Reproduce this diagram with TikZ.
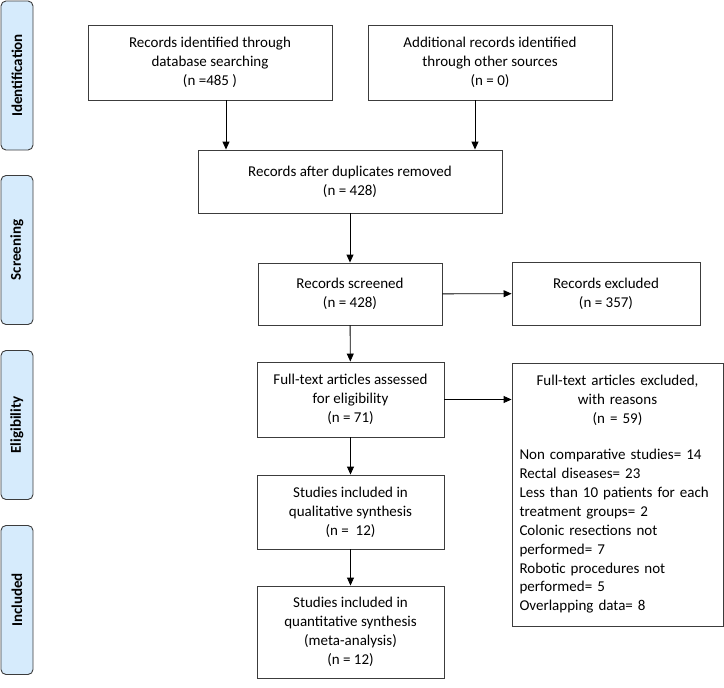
\documentclass[tikz,border=0pt]{standalone}
\usepackage{fontspec}
\setmainfont{Carlito}
\usetikzlibrary{positioning, arrows, arrows.meta}
\definecolor{phasefill}{RGB}{214,235,252}
\definecolor{linegray}{RGB}{60,60,60}
\tikzset{
>={Triangle[length=8pt, width=7pt]}, % arrow heads
every node/.style={font=\fontsize{15}{18.9}\selectfont}, % text size of the boxes
box/.style={draw=linegray, line width=0.9pt, align=center, inner sep=2pt}, % the flow boxes
phase/.style={draw=linegray, fill=phasefill, line width=0.9pt, rounded corners=5pt, rotate=90, minimum width=149pt, minimum height=32pt, font=\fontsize{15}{17}\selectfont\bfseries}, % the stages on the left
flow/.style={->, line width=0.9pt, black}, % the arrows
}

\begin{document}
\begin{tikzpicture}[x=1pt, y=-1pt]
    \useasboundingbox (0,0) rectangle (724,688);
    % stages
    \node[phase] (ident) at (17, 75.5) {Identification};
    \node[phase] (screen) at (17, 250) {Screening};
    \node[phase] (elig) at (17, 425) {Eligibility};
    \node[phase] (incl) at (17, 600) {Included};
    % boxes
    \node[box, minimum width=244pt, minimum height=75pt] (db) at (210, 62.5) {Records identified through\\ database searching\\ (n =485 )};
    \node[box, minimum width=244pt, minimum height=75pt] (other) at (490, 62.5) {Additional records identified\\ through other sources\\ (n = 0)};
    \node[box, minimum width=304pt, minimum height=63pt] (dup) at (350, 181.5) {Records after duplicates removed\\ (n = 428)};
    \node[box, minimum width=184pt, minimum height=62pt] (screened) at (350, 294) {Records screened\\ (n = 428)};
    \node[box, minimum width=188pt, minimum height=63pt] (excl) at (606, 293.5) {Records excluded\\ (n = 357)};
    \node[box, minimum width=187pt, minimum height=75pt] (full) at (350.5, 399.5) {Full-text articles assessed\\ for eligibility\\ (n = 71)};
    \node[box, minimum width=211pt, minimum height=263pt, text width=196pt, align=left] (fullexcl) at (617.5, 494.5) {%
      {\centering Full-text articles excluded,\\ with reasons\\ (n = 59)\par}
      \vspace{17pt}
      Non comparative studies= 14\\
      Rectal diseases= 23\\
      Less than 10 patients for each\\
      treatment groups= 2\\
      Colonic resections not\\
      performed= 7\\
      Robotic procedures not\\
      performed= 5\\
      Overlapping data= 8};
    \node[box, minimum width=187pt, minimum height=74pt] (qual) at (350.5, 512) {Studies included in\\ qualitative synthesis\\ (n =\ \ 12)};
    \node[box, minimum width=187pt, minimum height=92pt] (quant) at (350.5, 632) {Studies included in\\ quantitative synthesis\\ (meta-analysis)\\ (n = 12)};
    % arrows
    \draw[flow] ([xshift=16pt]db.south) -- ([xshift=16pt]db.south |- dup.north);
    \draw[flow] ([xshift=-15pt]other.south) -- ([xshift=-15pt]other.south |- dup.north);
    \draw[flow] (dup) -- (screened);
    \draw[flow] (screened) -- (excl);
    \draw[flow] (screened) -- (full);
    \draw[flow] (full) -- (full -| fullexcl.west);
    \draw[flow] (full) -- (qual);
    \draw[flow] (qual) -- (quant);
\end{tikzpicture}
\end{document}
